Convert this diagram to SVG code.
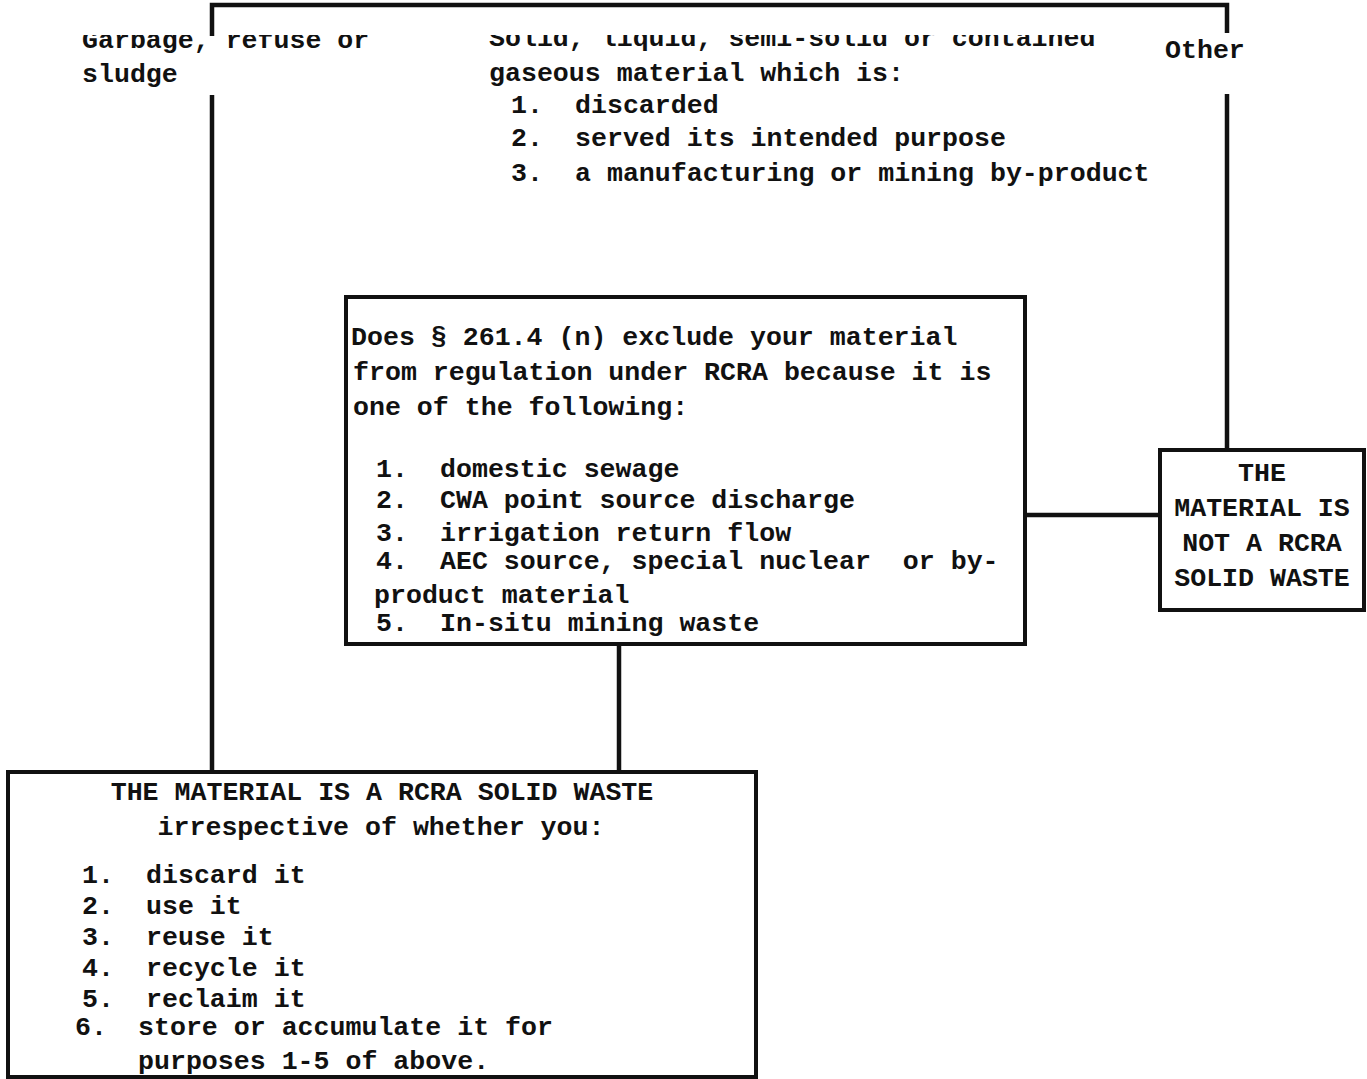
<svg xmlns="http://www.w3.org/2000/svg" width="1367" height="1079" viewBox="0 0 1367 1079">
<style>
  text { font-family: "Liberation Mono", "Courier New", monospace; font-weight: bold; font-size: 26.6px; fill: #111; white-space: pre; }
  .box { fill: #fff; stroke: #111; stroke-width: 4; }
  .line { fill: none; stroke: #111; stroke-width: 4.5; }
  .c { text-anchor: middle; }
</style>
<defs>
  <clipPath id="topcut"><rect x="0" y="35" width="1367" height="100"/></clipPath>
</defs>
<rect width="1367" height="1079" fill="#fff"/>
<g id="connectors">
  <path class="line" d="M212,36 V5 H1227 V33"/>
  <path class="line" d="M212,95 V772"/>
  <path class="line" d="M1227,94 V450"/>
  <path class="line" d="M1025,515 H1160"/>
  <path class="line" d="M619,644 V772"/>
</g>
<g id="top-garbage">
  <text x="82" y="48" clip-path="url(#topcut)">Garbage, refuse or</text>
  <text x="82" y="82">sludge</text>
</g>
<g id="top-solid">
  <text x="489" y="46" clip-path="url(#topcut)">Solid, liquid, semi-solid or contained</text>
  <text x="489" y="81">gaseous material which is:</text>
  <text x="511" y="113">1.</text><text x="575" y="113">discarded</text>
  <text x="511" y="146">2.</text><text x="575" y="146">served its intended purpose</text>
  <text x="511" y="181">3.</text><text x="575" y="181">a manufacturing or mining by-product</text>
</g>
<g id="top-other">
  <text x="1165" y="58">Other</text>
</g>
<g id="exclusion-question">
  <rect class="box" x="346" y="297" width="679" height="347"/>
  <text x="351" y="345">Does § 261.4 (n) exclude your material</text>
  <text x="353" y="380">from regulation under RCRA because it is</text>
  <text x="353" y="415">one of the following:</text>
  <text x="376" y="477">1.</text><text x="440" y="477">domestic sewage</text>
  <text x="376" y="508">2.</text><text x="440" y="508">CWA point source discharge</text>
  <text x="376" y="541">3.</text><text x="440" y="541">irrigation return flow</text>
  <text x="376" y="569">4.</text><text x="440" y="569" xml:space="preserve">AEC source, special nuclear  or by-</text>
  <text x="374" y="603">product material</text>
  <text x="376" y="631">5.</text><text x="440" y="631">In-situ mining waste</text>
</g>
<g id="not-solid-waste">
  <rect class="box" x="1160" y="450" width="204" height="160"/>
  <text class="c" x="1262" y="481">THE</text>
  <text class="c" x="1262" y="516">MATERIAL IS</text>
  <text class="c" x="1262" y="551">NOT A RCRA</text>
  <text class="c" x="1262" y="586">SOLID WASTE</text>
</g>
<g id="is-solid-waste">
  <rect class="box" x="8" y="772" width="748" height="305"/>
  <text class="c" x="382" y="800">THE MATERIAL IS A RCRA SOLID WASTE</text>
  <text class="c" x="381" y="835">irrespective of whether you:</text>
  <text x="82" y="883">1.</text><text x="146" y="883">discard it</text>
  <text x="82" y="914">2.</text><text x="146" y="914">use it</text>
  <text x="82" y="945">3.</text><text x="146" y="945">reuse it</text>
  <text x="82" y="976">4.</text><text x="146" y="976">recycle it</text>
  <text x="82" y="1007">5.</text><text x="146" y="1007">reclaim it</text>
  <text x="75" y="1035">6.</text><text x="138" y="1035">store or accumulate it for</text>
  <text x="138" y="1069">purposes 1-5 of above.</text>
</g>
</svg>
